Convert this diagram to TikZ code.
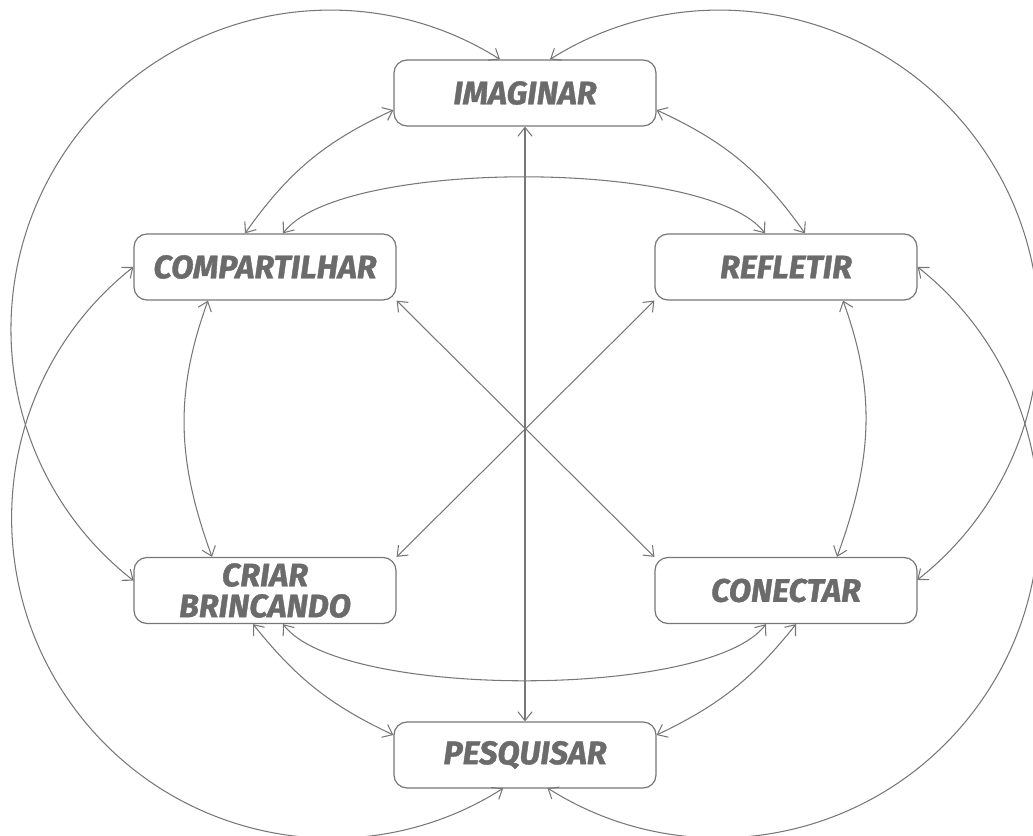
\documentclass[tikz,border=0pt]{standalone}
\usepackage{fontspec}
\setmainfont{Fira Sans}[BoldItalicFeatures={FakeBold=1.2}]
\usetikzlibrary{arrows.meta}
\definecolor{linegray}{HTML}{777777}
\definecolor{textgray}{HTML}{6B6B6B}

\begin{document}
\begin{tikzpicture}[
  box/.style={
    draw=linegray, line width=0.7pt, rounded corners=0.26cm,
    minimum width=5.24cm, minimum height=1.32cm, inner sep=0pt,
    text=textgray, align=center,
    font=\fontsize{18.5}{17.6}\selectfont\bfseries\itshape,
  },
  link/.style={
    draw=linegray, line width=0.6pt,
    {Straight Barb[length=5pt,width=8pt]}-{Straight Barb[length=5pt,width=8pt]},
  }]
  \useasboundingbox (0,0) rectangle (20.66,16.7);
  \node[box] (IM) at (10.5,14.84) {IMAGINAR};
  \node[box] (CO) at (5.3,11.36) {COMPARTILHAR};
  \node[box] (RE) at (15.72,11.36) {REFLETIR};
  \node[box] (CR) at (5.3,4.89) {CRIAR\\BRINCANDO};
  \node[box] (CN) at (15.72,4.89) {CONECTAR};
  \node[box] (PE) at (10.5,1.6) {PESQUISAR};
  % straight links through the middle
  \draw[link] (IM) -- (PE);
  \draw[link] (CO.south east) -- (CN.north west);
  \draw[link] (RE.south west) -- (CR.north east);
  % inner curves
  \draw[link] ([yshift=-0.34cm]IM.west) to[bend right=15] ([xshift=-0.4cm]CO.north);
  \draw[link] ([yshift=-0.34cm]IM.east) to[bend left=15] ([xshift=0.38cm]RE.north);
  \draw[link] ([xshift=0.36cm]CO.north) to[out=53, in=127, looseness=0.5] ([xshift=-0.42cm]RE.north);
  \draw[link] ([xshift=-1.14cm]CO.south) to[out=-110, in=110] ([xshift=-1.06cm]CR.north);
  \draw[link] ([xshift=1.14cm]RE.south) to[out=-70, in=70] ([xshift=1.02cm]CN.north);
  \draw[link] ([xshift=0.36cm]CR.south) to[out=-53, in=-127, looseness=0.5] ([xshift=-0.4cm]CN.south);
  \draw[link] ([xshift=-0.24cm]CR.south) to[bend right=13] ([yshift=0.4cm]PE.west);
  \draw[link] ([xshift=0.2cm]CN.south) to[bend left=13] ([yshift=0.4cm]PE.east);
  % big outer arcs
  \draw[link] ([xshift=-0.5cm]IM.north) arc[start angle=57.8, end angle=232, radius=6.38cm];
  \draw[link] ([xshift=0.5cm]IM.north) arc[start angle=122.2, end angle=-51.8, radius=6.38cm];
  \draw[link] (CO.west) arc[start angle=128.3, end angle=302.4, radius=6.4cm];
  \draw[link] (RE.east) arc[start angle=51.6, end angle=-122.4, radius=6.4cm];
\end{tikzpicture}
\end{document}
